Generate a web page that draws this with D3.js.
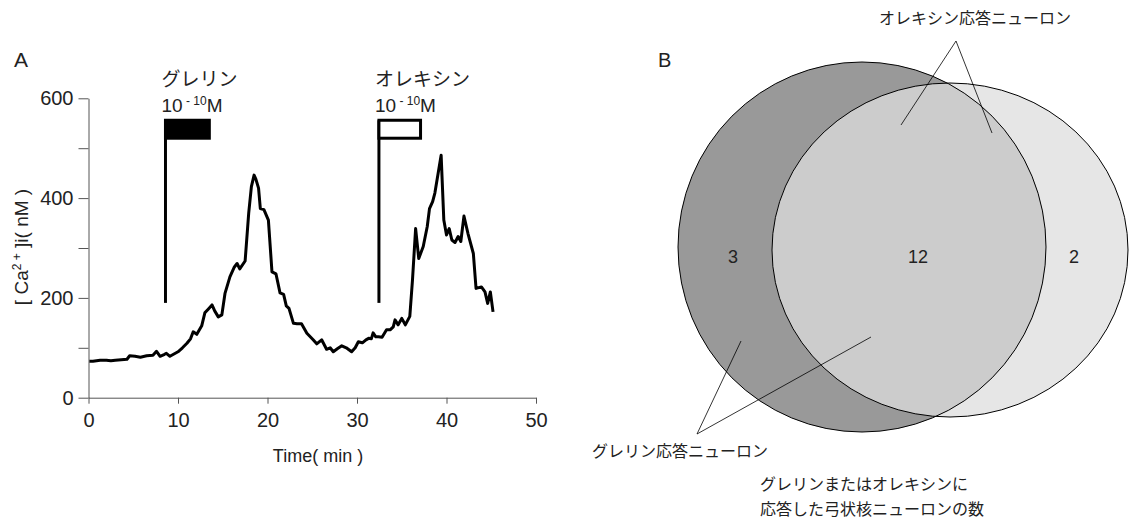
<!DOCTYPE html>
<html><head><meta charset="utf-8">
<script src="https://cdn.jsdelivr.net/npm/d3@7"></script>
<style>
body{margin:0;background:#fff;}
text{font-family:"Liberation Sans",Arial,"Noto Sans CJK JP",sans-serif;fill:#222;}
.jp{font-family:"Noto Sans CJK JP","Liberation Sans",sans-serif;}
</style></head>
<body>
<svg id="c" width="1130" height="519"></svg>
<script>
// ---- data: panel A (time in min, [Ca2+]i in nM) ----
const timeMin = [0.1,0.5,1.3,2.0,2.5,3.0,4.3,4.6,5.2,5.8,6.5,7.2,7.6,8.0,8.5,8.7,9.1,9.6,10.0,10.5,11.0,11.4,11.7,12.1,12.65,13.0,13.4,13.8,14.1,14.5,14.9,15.25,15.8,16.3,16.6,16.9,17.5,17.9,18.2,18.5,18.7,19.0,19.2,19.6,20.1,20.5,20.95,21.4,21.8,22.1,22.4,22.9,23.3,23.8,24.4,25.1,25.5,26.05,26.6,27.0,27.35,27.8,28.3,28.8,29.4,29.8,30.15,30.6,31.0,31.3,31.6,31.8,32.1,32.4,32.8,33.3,33.7,34.05,34.25,34.6,35.0,35.4,35.9,36.2,36.55,36.9,37.4,37.85,38.1,38.45,38.7,39.4,39.7,40.0,40.3,40.6,40.95,41.3,41.6,41.95,42.4,43.0,43.3,43.9,44.3,44.6,44.9,45.2];
const calcium = [73,73,75,75,74,75,77,84,83,81,84,85,93,83,87,89,83,88,92,100,109,118,132,127,144,170,178,186,174,162,166,209,242,262,269,258,274,370,423,446,438,420,379,377,356,252,248,210,207,184,179,149,148,148,129,116,108,116,97,100,92,98,104,100,92,100,112,110,116,119,118,130,122,122,121,136,136,142,156,146,159,146,163,236,339,279,303,343,379,393,410,486,356,326,339,316,311,323,313,364,329,289,219,222,212,189,212,172];
const stimNames = ["グレリン","オレキシン"];
const stimStart = [8.6, 32.45];
const stimEnd = [13.5, 37.1];
const stimBarTop = 556, stimBarBottom = 520, stimLineBottom = 190;
const stimFilled = [true, false];
const yTicks = [0,100,200,300,400,500,600];
const xTicks = [0,10,20,30,40,50];
// ---- data: panel B (Venn counts) ----
const vennLabels = ["グレリンのみ","両方","オレキシンのみ"];
const vennCounts = [3, 12, 2];

const svg = d3.select("#c");
const x = d3.scaleLinear().domain([0,50]).range([88.5,536]);
const y = d3.scaleLinear().domain([0,600]).range([397.7,98.3]);

// axes
const yAx = svg.append("g").attr("transform","translate(88.5,0)")
  .call(d3.axisLeft(y).tickValues(yTicks).tickSize(10).tickSizeOuter(0).tickPadding(5)
    .tickFormat(d => d % 200 === 0 ? d : ""));
const xAx = svg.append("g").attr("transform","translate(0,397.7)")
  .call(d3.axisBottom(x).tickValues(xTicks).tickSize(6).tickSizeOuter(0).tickPadding(9));
[yAx,xAx].forEach(g=>{
  g.selectAll("path,line").attr("stroke","#555").attr("stroke-width",1);
  g.selectAll("text").attr("font-size",20).attr("fill","#222")
   .attr("font-family","Liberation Sans, Arial, sans-serif");
});

// axis titles
svg.append("text").attr("x",318).attr("y",462).attr("text-anchor","middle")
  .attr("font-size",18).text("Time( min )");
const yl = svg.append("text").attr("transform","translate(28,247) rotate(-90)")
  .attr("text-anchor","middle").attr("font-size",19);
yl.append("tspan").text("[ Ca");
yl.append("tspan").attr("dy",-7).attr("font-size",12).text("2 +");
yl.append("tspan").attr("dy",7).text(" ]i( nM )");

// trace
const pts = timeMin.map((t,i)=>[t,calcium[i]]);
svg.append("path").datum(pts)
  .attr("d", d3.line().x(d=>x(d[0])).y(d=>y(d[1])))
  .attr("fill","none").attr("stroke","#000").attr("stroke-width",3)
  .attr("stroke-linejoin","round");

// stimulus markers
stimStart.forEach((s,i)=>{
  svg.append("line").attr("x1",x(s)).attr("x2",x(s))
    .attr("y1",y(stimLineBottom)).attr("y2",y(stimBarTop))
    .attr("stroke","#000").attr("stroke-width",3);
  svg.append("rect").attr("x",x(s)).attr("y",y(stimBarTop))
    .attr("width",x(stimEnd[i])-x(s)).attr("height",y(stimBarBottom)-y(stimBarTop))
    .attr("fill",stimFilled[i]?"#000":"#fff").attr("stroke","#000").attr("stroke-width",3);
  svg.append("text").attr("class","jp").attr("x",x(s)-4).attr("y",86)
    .attr("font-size",19).text(stimNames[i]);
  const c = svg.append("text").attr("x",x(s)-4).attr("y",112).attr("font-size",19);
  c.append("tspan").text("10");
  c.append("tspan").attr("dy",-7).attr("font-size",12).text(" - 10");
  c.append("tspan").attr("dy",7).text("M");
});

svg.append("text").attr("x",14).attr("y",67).attr("font-size",21).text("A");
svg.append("text").attr("x",658).attr("y",67).attr("font-size",20).text("B");

// ---- Venn ----
const ghr = {cx:862, cy:247, rx:184, ry:185};
const orx = {cx:950, cy:250, rx:178, ry:167};
const defs = svg.append("defs");
defs.append("clipPath").attr("id","clipG").append("ellipse")
  .attr("cx",ghr.cx).attr("cy",ghr.cy).attr("rx",ghr.rx).attr("ry",ghr.ry);
svg.append("ellipse").attr("cx",orx.cx).attr("cy",orx.cy).attr("rx",orx.rx).attr("ry",orx.ry)
  .attr("fill","#e6e6e6");
svg.append("ellipse").attr("cx",ghr.cx).attr("cy",ghr.cy).attr("rx",ghr.rx).attr("ry",ghr.ry)
  .attr("fill","#999999");
svg.append("ellipse").attr("cx",orx.cx).attr("cy",orx.cy).attr("rx",orx.rx).attr("ry",orx.ry)
  .attr("fill","#cccccc").attr("clip-path","url(#clipG)");
[ghr,orx].forEach(e=>svg.append("ellipse").attr("cx",e.cx).attr("cy",e.cy)
  .attr("rx",e.rx).attr("ry",e.ry).attr("fill","none").attr("stroke","#000").attr("stroke-width",1));

const countX = [733, 918, 1074];
vennCounts.forEach((v,i)=>{
  svg.append("text").attr("x",countX[i]).attr("y",263).attr("text-anchor","middle")
    .attr("font-size",18).text(v);
});

// annotations
const lines = [
  [956,41,901,125],[956,41,992,133],
  [697,434,741,341],[697,434,871,337]
];
lines.forEach(l=>svg.append("line").attr("x1",l[0]).attr("y1",l[1]).attr("x2",l[2]).attr("y2",l[3])
  .attr("stroke","#000").attr("stroke-width",0.8));
svg.append("text").attr("class","jp").attr("x",975).attr("y",24).attr("text-anchor","middle")
  .attr("font-size",16).text("オレキシン応答ニューロン");
svg.append("text").attr("class","jp").attr("x",592).attr("y",457)
  .attr("font-size",16).text("グレリン応答ニューロン");
svg.append("text").attr("class","jp").attr("x",760).attr("y",490)
  .attr("font-size",16).text("グレリンまたはオレキシンに");
svg.append("text").attr("class","jp").attr("x",760).attr("y",515)
  .attr("font-size",16).text("応答した弓状核ニューロンの数");
</script>
</body></html>
